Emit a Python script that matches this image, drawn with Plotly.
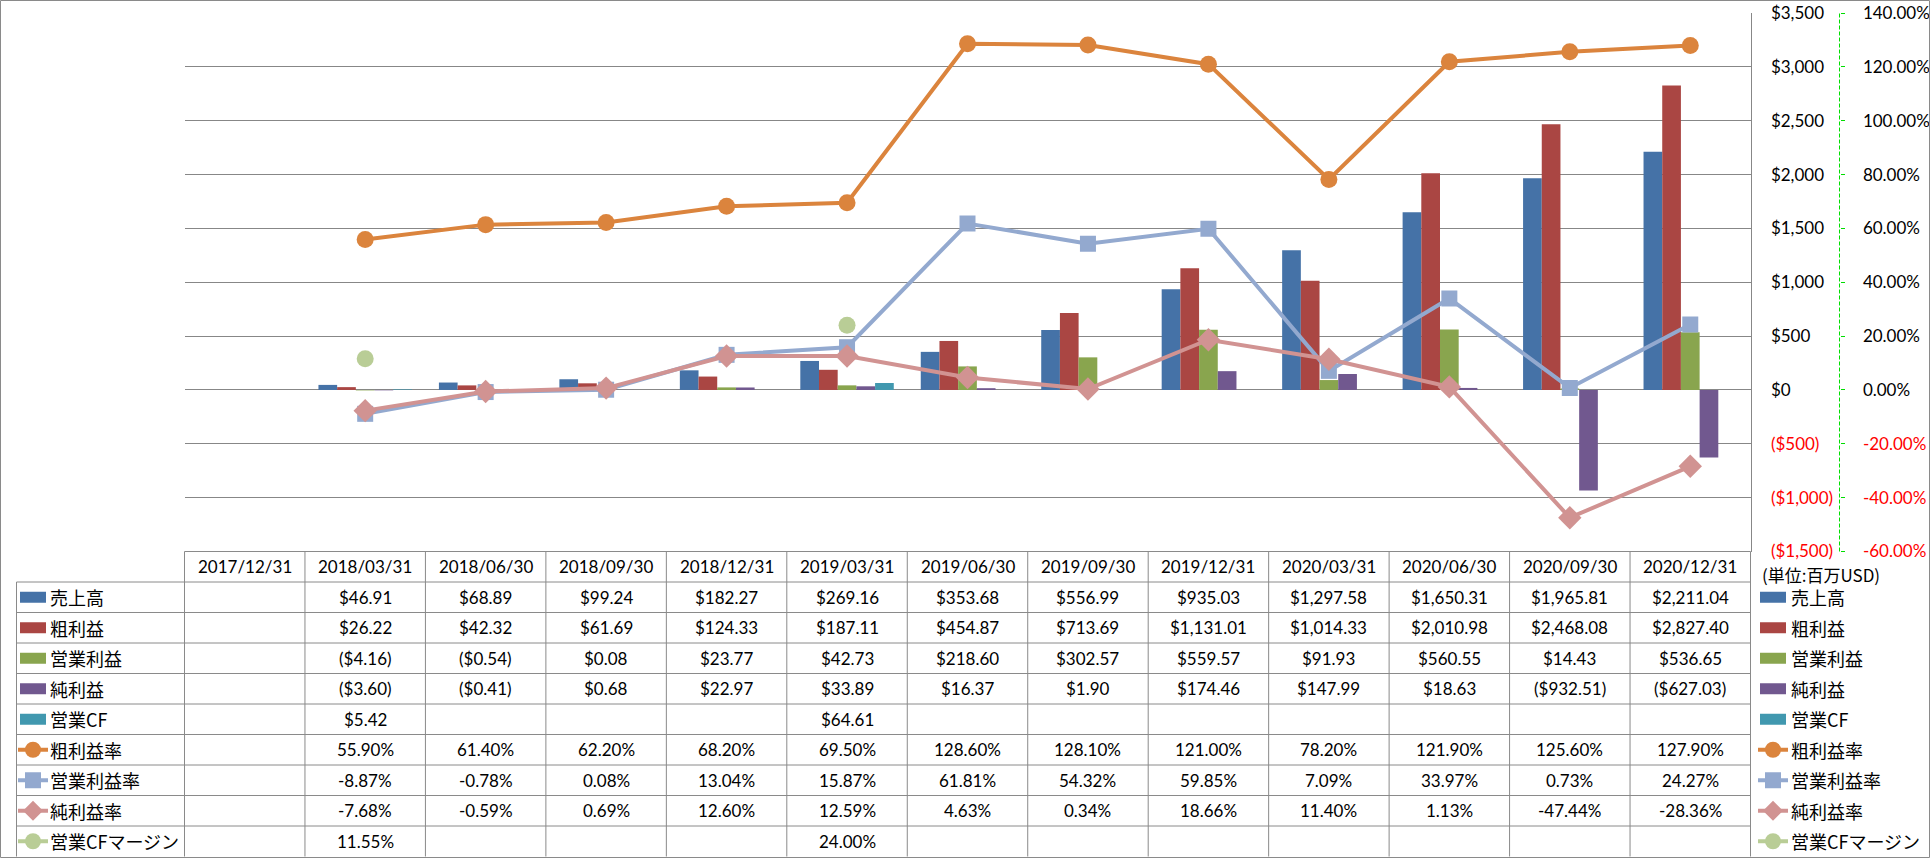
import plotly.graph_objects as go

# ---------------- data ----------------
dates = ["2017/12/31", "2018/03/31", "2018/06/30", "2018/09/30", "2018/12/31",
         "2019/03/31", "2019/06/30", "2019/09/30", "2019/12/31", "2020/03/31",
         "2020/06/30", "2020/09/30", "2020/12/31"]

revenue = [None, 46.91, 68.89, 99.24, 182.27, 269.16, 353.68, 556.99, 935.03,
           1297.58, 1650.31, 1965.81, 2211.04]
gross_profit = [None, 26.22, 42.32, 61.69, 124.33, 187.11, 454.87, 713.69, 1131.01,
                1014.33, 2010.98, 2468.08, 2827.40]
operating_income = [None, -4.16, -0.54, 0.08, 23.77, 42.73, 218.60, 302.57, 559.57,
                    91.93, 560.55, 14.43, 536.65]
net_income = [None, -3.60, -0.41, 0.68, 22.97, 33.89, 16.37, 1.90, 174.46,
              147.99, 18.63, -932.51, -627.03]
operating_cf = [None, 5.42, None, None, None, 64.61, None, None, None,
                None, None, None, None]

gross_margin = [None, 55.90, 61.40, 62.20, 68.20, 69.50, 128.60, 128.10, 121.00,
                78.20, 121.90, 125.60, 127.90]
operating_margin = [None, -8.87, -0.78, 0.08, 13.04, 15.87, 61.81, 54.32, 59.85,
                    7.09, 33.97, 0.73, 24.27]
net_margin = [None, -7.68, -0.59, 0.69, 12.60, 12.59, 4.63, 0.34, 18.66,
              11.40, 1.13, -47.44, -28.36]
cf_margin = [None, 11.55, None, None, None, 24.00, None, None, None,
             None, None, None, None]

bar_names = ["売上高", "粗利益", "営業利益", "純利益", "営業CF"]
line_names = ["粗利益率", "営業利益率", "純利益率", "営業CFマージン"]
left_ticks = [-1500, -1000, -500, 0, 500, 1000, 1500, 2000, 2500, 3000, 3500]
right_ticks = [-60, -40, -20, 0, 20, 40, 60, 80, 100, 120, 140]
unit_label = "(単位:百万USD)"

# ---------------- style / layout constants ----------------
W, H = 1930, 858
PLOT_L, PLOT_R = 184.5, 1750.5
PLOT_T, PLOT_B = 13.0, 551.5
ROW_H = 30.5
LABEL_L = 16.5
AX2_X = 1839.5
GRID = "#878787"
LINEC = "#8a8a8a"
LATIN = "Lato, 'Noto Sans CJK JP', sans-serif"
CJK = "'Noto Sans CJK JP', sans-serif"
NUM_SIZE = 17
CJK_SIZE = 18

bar_colors = ["#4572A7", "#AA4643", "#89A54E", "#71588F", "#4198AF"]
line_colors = ["#DB843D", "#93A9CF", "#D19392", "#B9CD96"]
line_symbols = ["circle", "square", "diamond", "circle"]
marker_sizes = [17, 16, 18, 17]


def px(x):
    return x / W


def py(y):
    return 1 - y / H


def fmt_money(v):
    if v is None:
        return ""
    s = f"${abs(v):,.2f}"
    return f"({s})" if v < 0 else s


def fmt_pct(v):
    if v is None:
        return ""
    return f"{v:.2f}%"


def tick_money(v):
    s = f"${abs(v):,.0f}"
    if v < 0:
        return f'<span style="color:#FF0000">({s})</span>'
    return s


def tick_pct(v):
    s = f"{v:.2f}%"
    if v < 0:
        return f'<span style="color:#FF0000">{s}</span>'
    return s


fig = go.Figure()

bar_series = [revenue, gross_profit, operating_income, net_income, operating_cf]
for name, vals, col in zip(bar_names, bar_series, bar_colors):
    fig.add_trace(go.Bar(x=dates, y=vals, name=name, marker=dict(color=col, line=dict(width=0)),
                         yaxis="y", showlegend=False))

line_series = [gross_margin, operating_margin, net_margin, cf_margin]
for i, (name, vals) in enumerate(zip(line_names, line_series)):
    mode = "markers" if i == 3 else "lines+markers"
    fig.add_trace(go.Scatter(x=dates, y=vals, name=name, mode=mode, yaxis="y2",
                             line=dict(color=line_colors[i], width=4),
                             marker=dict(symbol=line_symbols[i], size=marker_sizes[i],
                                         color=line_colors[i], line=dict(width=0)),
                             showlegend=False))

shapes = []
annotations = []

# outer chart border
shapes.append(dict(type="rect", xref="paper", yref="paper", x0=px(0.5), x1=px(W - 0.5),
                   y0=py(H - 0.5), y1=py(0.5), line=dict(color=LINEC, width=1)))

# secondary axis dashed line
shapes.append(dict(type="line", xref="paper", yref="paper", x0=px(AX2_X), x1=px(AX2_X),
                   y0=py(PLOT_B), y1=py(PLOT_T), line=dict(color="#00DD00", width=1, dash="4px,2px")))

# table lines
n = len(dates)
col_w = (PLOT_R - PLOT_L) / n
bottom = PLOT_B + 10 * ROW_H
shapes.append(dict(type="line", xref="paper", yref="paper", x0=px(PLOT_L), x1=px(PLOT_R),
                   y0=py(PLOT_B), y1=py(PLOT_B), line=dict(color=LINEC, width=1)))
for k in range(1, 10):
    yy = PLOT_B + k * ROW_H
    shapes.append(dict(type="line", xref="paper", yref="paper", x0=px(LABEL_L), x1=px(PLOT_R),
                       y0=py(yy), y1=py(yy), line=dict(color=LINEC, width=1)))
shapes.append(dict(type="line", xref="paper", yref="paper", x0=px(LABEL_L), x1=px(LABEL_L),
                   y0=py(PLOT_B + ROW_H), y1=py(bottom), line=dict(color=LINEC, width=1)))
for j in range(n + 1):
    xx = PLOT_L + j * col_w
    shapes.append(dict(type="line", xref="paper", yref="paper", x0=px(xx), x1=px(xx),
                       y0=py(PLOT_B), y1=py(bottom), line=dict(color=LINEC, width=1)))

# header row dates
for d in dates:
    annotations.append(dict(x=d, xref="x", y=py(PLOT_B + ROW_H / 2), yref="paper",
                            text=d, showarrow=False, xanchor="center", yanchor="middle",
                            font=dict(family=LATIN, size=NUM_SIZE, color="black")))

# data rows
rows = []
for name, vals, col in zip(bar_names, bar_series, bar_colors):
    rows.append((name, [fmt_money(v) for v in vals], "bar", col, None))
for i, (name, vals) in enumerate(zip(line_names, line_series)):
    rows.append((name, [fmt_pct(v) for v in vals], "line", line_colors[i], line_symbols[i]))


def legend_key(cx, cy, kind, col, sym):
    # cx, cy: pixel center of key
    if kind == "bar":
        shapes.append(dict(type="rect", xref="paper", yref="paper", x0=px(cx - 13), x1=px(cx + 13),
                           y0=py(cy + 5.5), y1=py(cy - 5.5), fillcolor=col, line=dict(width=0)))
        return
    shapes.append(dict(type="line", xref="paper", yref="paper", x0=px(cx - 15), x1=px(cx + 15),
                       y0=py(cy), y1=py(cy), line=dict(color=col, width=4)))
    r = 8
    if sym == "circle":
        shapes.append(dict(type="circle", xref="paper", yref="paper", x0=px(cx - r), x1=px(cx + r),
                           y0=py(cy + r), y1=py(cy - r), fillcolor=col, line=dict(width=0)))
    elif sym == "square":
        shapes.append(dict(type="rect", xref="paper", yref="paper", x0=px(cx - r), x1=px(cx + r),
                           y0=py(cy + r), y1=py(cy - r), fillcolor=col, line=dict(width=0)))
    else:
        d = 10
        path = (f"M{px(cx)},{py(cy - d)} L{px(cx + d)},{py(cy)} "
                f"L{px(cx)},{py(cy + d)} L{px(cx - d)},{py(cy)} Z")
        shapes.append(dict(type="path", xref="paper", yref="paper", path=path,
                           fillcolor=col, line=dict(width=0)))


for r_i, (name, texts, kind, col, sym) in enumerate(rows):
    cy = PLOT_B + ROW_H * (r_i + 1.5)
    # table label column
    legend_key(33, cy, kind, col, sym)
    annotations.append(dict(x=px(48), xref="paper", y=py(cy), yref="paper", text=name,
                            showarrow=False, xanchor="left", yanchor="middle",
                            font=dict(family=CJK, size=CJK_SIZE, color="black")))
    # right legend
    legend_key(1773, cy, kind, col, sym)
    annotations.append(dict(x=px(1789), xref="paper", y=py(cy), yref="paper", text=name,
                            showarrow=False, xanchor="left", yanchor="middle",
                            font=dict(family=CJK, size=CJK_SIZE, color="black")))
    for d, t in zip(dates, texts):
        if t:
            annotations.append(dict(x=d, xref="x", y=py(cy), yref="paper", text=t,
                                    showarrow=False, xanchor="center", yanchor="middle",
                                    font=dict(family=LATIN, size=NUM_SIZE, color="black")))

annotations.append(dict(x=px(1760), xref="paper", y=py(574), yref="paper", text=unit_label,
                        showarrow=False, xanchor="left", yanchor="middle",
                        font=dict(family=CJK, size=17, color="black")))

fig.update_layout(
    template="none",
    width=W, height=H,
    margin=dict(l=0, r=0, t=0, b=0, pad=0),
    paper_bgcolor="white", plot_bgcolor="white",
    barmode="group", bargap=0.224, bargroupgap=0,
    showlegend=False,
    hovermode=False,
    xaxis=dict(type="category", domain=[px(PLOT_L), px(PLOT_R)], range=[-0.5, n - 0.5],
               showticklabels=False, showgrid=False, zeroline=False, showline=False,
               ticks="", automargin=False),
    yaxis=dict(domain=[py(PLOT_B), py(PLOT_T)], range=[-1500, 3500], side="right",
               tickmode="array", tickvals=left_ticks, ticktext=[tick_money(v) for v in left_ticks],
               showgrid=True, gridcolor=GRID, gridwidth=1, zeroline=False,
               showline=True, linecolor=GRID, linewidth=1, ticks="",
               ticklabelstandoff=16, automargin=False,
               tickfont=dict(family=LATIN, size=NUM_SIZE, color="black")),
    yaxis2=dict(overlaying="y", side="right", anchor="free", position=px(AX2_X),
                range=[-60, 140], tickmode="array", tickvals=right_ticks,
                ticktext=[tick_pct(v) for v in right_ticks],
                showgrid=False, zeroline=False, showline=False,
                ticks="outside", ticklen=4, tickcolor="#00DD00", tickwidth=1,
                ticklabelstandoff=15, automargin=False,
                tickfont=dict(family=LATIN, size=NUM_SIZE, color="black")),
    shapes=shapes,
    annotations=annotations,
)

fig.write_html("out.html", config={"displayModeBar": False, "staticPlot": True},
               post_script="document.body.style.margin='0';document.body.style.overflow='hidden';")
